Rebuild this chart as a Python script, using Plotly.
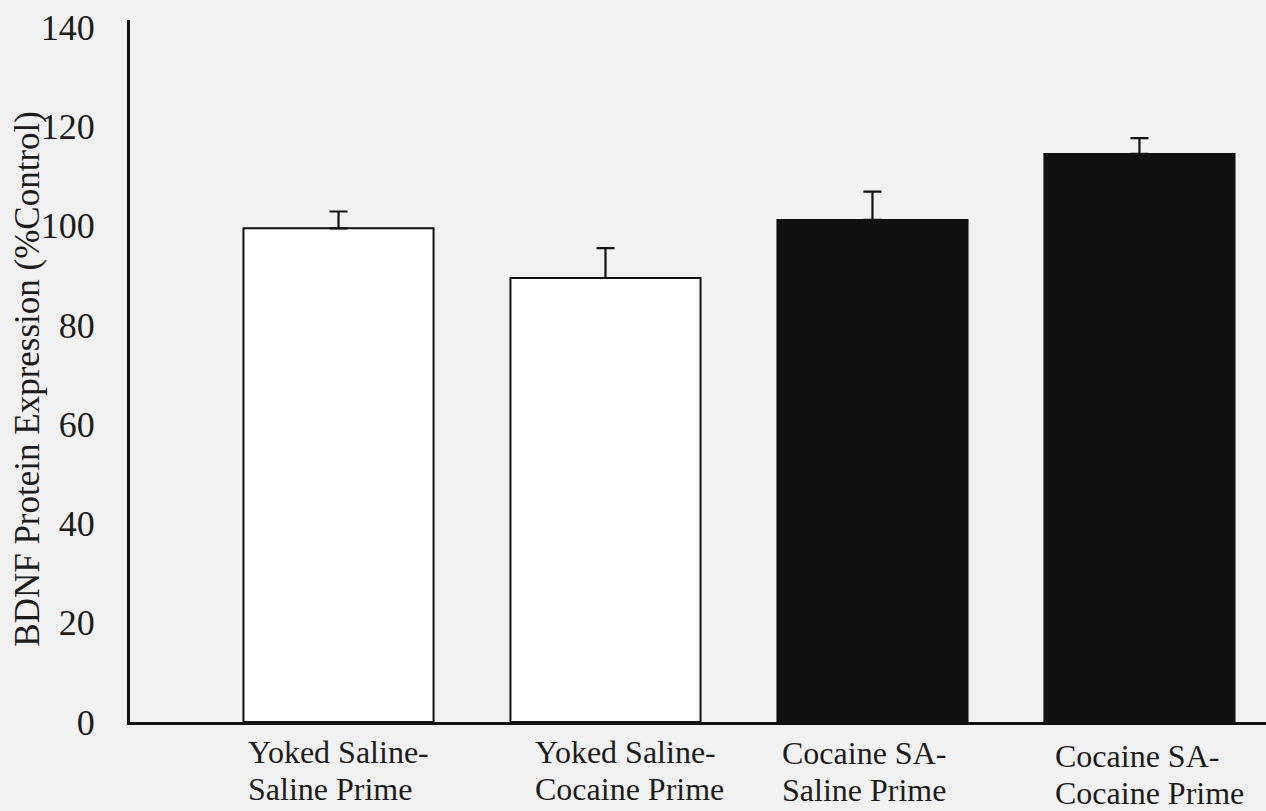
import plotly.graph_objects as go

# Group labels (two lines each), mean BDNF expression (% of control) and SEM
label_top = ["Yoked Saline-", "Yoked Saline-", "Cocaine SA-", "Cocaine SA-"]
label_bottom = ["Saline Prime", "Cocaine Prime", "Saline Prime", "Cocaine Prime"]
means = [99.5, 89.5, 101.2, 114.5]
sem = [3.4, 6.0, 5.7, 3.2]
fills = ["#ffffff", "#ffffff", "#111111", "#111111"]
y_ticks = [0, 20, 40, 60, 80, 100, 120, 140]

x_pos = list(range(len(means)))
FONT = "Liberation Serif, Times New Roman, serif"
BG = "#f1f1f1"
TEXT = "#1c1c1c"
BAR_W = 0.712

fig = go.Figure()
fig.add_trace(go.Bar(
    x=x_pos, y=means,
    width=BAR_W,
    marker=dict(color=fills, line=dict(color="#111111", width=2)),
    error_y=dict(type="data", symmetric=False, array=sem,
                 arrayminus=[0] * len(sem),
                 color="#111111", thickness=2.2, width=9),
    showlegend=False,
))

# category labels: left-aligned two-line blocks under each bar
label_dx = [3, 23, 3, 9]
label_dy = [0, 0, -1, -4]
annotations = []
for i in x_pos:
    for text, dy in ((label_top[i], -30), (label_bottom[i], -67)):
        annotations.append(dict(
            text=text, showarrow=False,
            xref="x", yref="paper",
            x=i - BAR_W / 2, y=0,
            xanchor="left", yanchor="middle",
            xshift=label_dx[i], yshift=dy + label_dy[i],
            font=dict(size=32, family=FONT, color=TEXT),
        ))

annotations.append(dict(
    text="BDNF Protein Expression (%Control)",
    textangle=-90, showarrow=False,
    xref="paper", yref="paper",
    x=-0.0898, y=0.489, xanchor="center", yanchor="middle",
    font=dict(size=35, family=FONT, color=TEXT),
))

fig.update_layout(
    width=1266, height=811,
    margin=dict(l=130, r=0, t=20, b=89),
    paper_bgcolor=BG, plot_bgcolor=BG,
    font=dict(family=FONT, color=TEXT),
    xaxis=dict(
        range=[-0.781, 3.474],
        tickvals=x_pos, showticklabels=False,
        showgrid=False, zeroline=False,
        showline=True, linecolor="#111111", linewidth=3,
        ticks="", fixedrange=True,
    ),
    yaxis=dict(
        range=[0, 141.5],
        tickvals=y_ticks,
        tickfont=dict(size=36, family=FONT, color=TEXT),
        showgrid=False, zeroline=False,
        showline=True, linecolor="#111111", linewidth=3,
        ticks="", ticklabelstandoff=25,
    ),
    annotations=annotations,
)

fig.write_html("out.html")
